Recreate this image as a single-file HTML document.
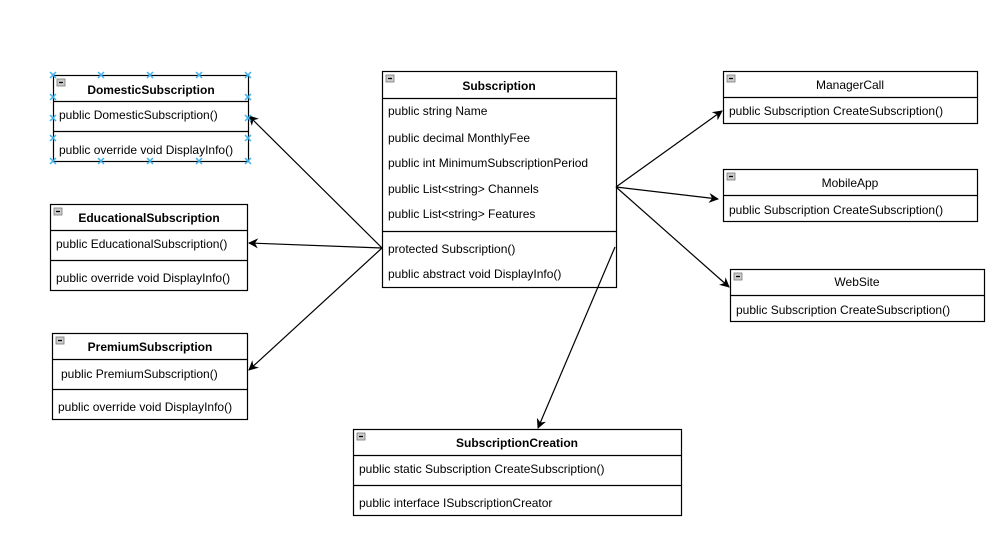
<!DOCTYPE html>
<html><head><meta charset="utf-8"><style>
html,body{margin:0;padding:0;background:#fff;}
svg{display:block;font-family:"Liberation Sans",Arial,sans-serif;}
</style></head><body>
<svg width="1008" height="552" viewBox="0 0 1008 552" xmlns="http://www.w3.org/2000/svg">
<defs>
<marker id="a" viewBox="0 0 10 10" refX="9" refY="5" markerWidth="10" markerHeight="10" markerUnits="userSpaceOnUse" orient="auto">
<path d="M0,0 L10,5 L0,10 L3,5 z" fill="#000"/>
</marker>
<g id="m"><rect x="0" y="0" width="8" height="7" fill="#ccc" stroke="#777" stroke-width="0.8"/><line x1="2" y1="3.5" x2="6" y2="3.5" stroke="#000" stroke-width="1.3"/></g>
</defs>
<g fill="none" stroke="#000" stroke-width="1.2">
<rect x="53.5" y="75.5" width="195" height="86"/><line x1="53" y1="101.5" x2="249" y2="101.5"/><line x1="53" y1="131.5" x2="249" y2="131.5"/>
<rect x="50.5" y="204.5" width="197" height="86"/><line x1="50" y1="230.5" x2="248" y2="230.5"/><line x1="50" y1="260.5" x2="248" y2="260.5"/>
<rect x="52.5" y="333.5" width="195" height="86"/><line x1="52" y1="359.5" x2="248" y2="359.5"/><line x1="52" y1="389.5" x2="248" y2="389.5"/>
<rect x="382.5" y="71.5" width="234" height="216"/><line x1="382" y1="98.5" x2="617" y2="98.5"/><line x1="382" y1="231.5" x2="617" y2="231.5"/>
<rect x="723.5" y="71.5" width="254" height="52"/><line x1="723" y1="97.5" x2="978" y2="97.5"/>
<rect x="723.5" y="169.5" width="254" height="52"/><line x1="723" y1="195.5" x2="978" y2="195.5"/>
<rect x="730.5" y="269.5" width="254" height="52"/><line x1="730" y1="295.5" x2="985" y2="295.5"/>
<rect x="353.5" y="429.5" width="328" height="86"/><line x1="353" y1="455.5" x2="682" y2="455.5"/><line x1="353" y1="485.5" x2="682" y2="485.5"/>
</g>
<g stroke="#000" stroke-width="1.2" marker-end="url(#a)">
<line x1="382" y1="248" x2="249" y2="116"/>
<line x1="382" y1="248" x2="249" y2="243"/>
<line x1="382" y1="248" x2="249" y2="370"/>
<line x1="616" y1="187" x2="722" y2="111"/>
<line x1="616" y1="187" x2="718" y2="199"/>
<line x1="616" y1="187" x2="729" y2="287"/>
<line x1="615" y1="247" x2="538" y2="428"/>
</g>
<use href="#m" x="57" y="79"/><use href="#m" x="54" y="208"/><use href="#m" x="56" y="337"/>
<use href="#m" x="386" y="75"/><use href="#m" x="727" y="75"/><use href="#m" x="727" y="173"/>
<use href="#m" x="734" y="273"/><use href="#m" x="357" y="433"/>
<g font-size="12" fill="#000">
<g font-weight="bold" text-anchor="middle">
<text x="151" y="94">DomesticSubscription</text>
<text x="149" y="222">EducationalSubscription</text>
<text x="150" y="351">PremiumSubscription</text>
<text x="499" y="90">Subscription</text>
<text x="517" y="447">SubscriptionCreation</text>
</g>
<g text-anchor="middle">
<text x="850" y="89">ManagerCall</text>
<text x="850" y="187">MobileApp</text>
<text x="857" y="286">WebSite</text>
</g>
<text x="59" y="119">public DomesticSubscription()</text>
<text x="59" y="154">public override void DisplayInfo()</text>
<text x="56" y="248">public EducationalSubscription()</text>
<text x="56" y="282">public override void DisplayInfo()</text>
<text x="61" y="378">public PremiumSubscription()</text>
<text x="58" y="411">public override void DisplayInfo()</text>
<text x="388" y="115">public string Name</text>
<text x="388" y="142">public decimal MonthlyFee</text>
<text x="388" y="167">public int MinimumSubscriptionPeriod</text>
<text x="388" y="193">public List&lt;string&gt; Channels</text>
<text x="388" y="218">public List&lt;string&gt; Features</text>
<text x="388" y="253">protected Subscription()</text>
<text x="388" y="278">public abstract void DisplayInfo()</text>
<text x="729" y="115">public Subscription CreateSubscription()</text>
<text x="729" y="214">public Subscription CreateSubscription()</text>
<text x="736" y="314">public Subscription CreateSubscription()</text>
<text x="359" y="473">public static Subscription CreateSubscription()</text>
<text x="359" y="507">public interface ISubscriptionCreator</text>
</g>
<g stroke="#3db4f0" stroke-width="1.5">
<path d="M50,72l6,6m0,-6l-6,6 M98,72l6,6m0,-6l-6,6 M147,72l6,6m0,-6l-6,6 M196,72l6,6m0,-6l-6,6 M245,72l6,6m0,-6l-6,6
M50,158l6,6m0,-6l-6,6 M98,158l6,6m0,-6l-6,6 M147,158l6,6m0,-6l-6,6 M196,158l6,6m0,-6l-6,6 M245,158l6,6m0,-6l-6,6
M50,94l6,6m0,-6l-6,6 M50,115l6,6m0,-6l-6,6 M50,135l6,6m0,-6l-6,6
M245,94l6,6m0,-6l-6,6 M245,115l6,6m0,-6l-6,6 M245,135l6,6m0,-6l-6,6"/>
</g>
</svg>
</body></html>
